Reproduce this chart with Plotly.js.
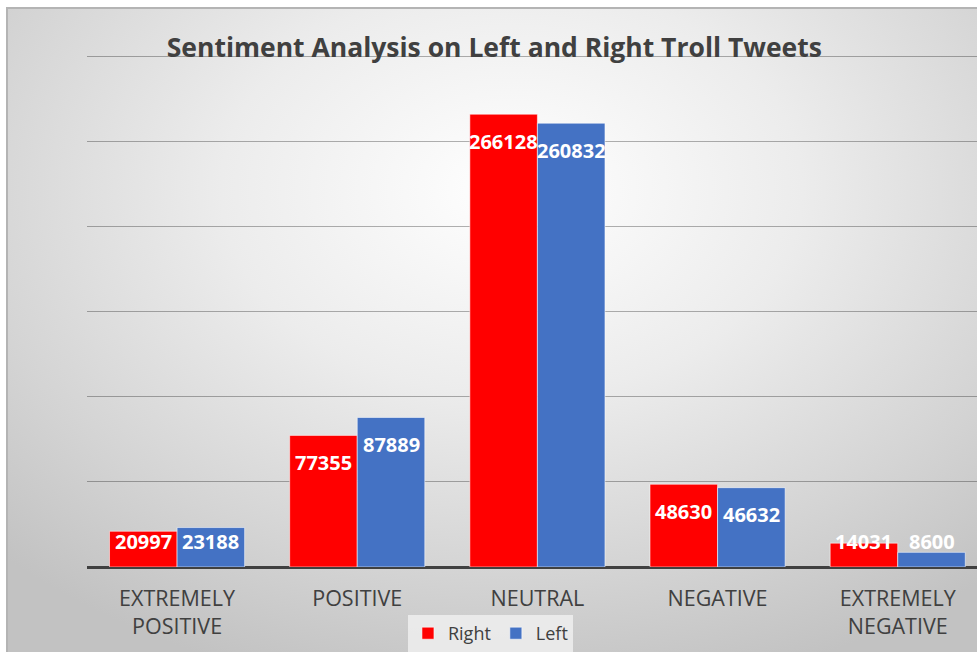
<!DOCTYPE html>
<html>
<head>
<meta charset="utf-8">
<script src="https://cdn.plot.ly/plotly-3.0.1.min.js"></script>
<style>
  html, body { margin: 0; padding: 0; background: #ffffff; }
  #wrap { position: relative; width: 977px; height: 652px; overflow: hidden; }
  #bg { position: absolute; left: 6px; top: 7px; right: 0; bottom: 0;
        border-left: 2px solid #b4b4b4; border-top: 2px solid #b4b4b4;
        background: radial-gradient(ellipse 75% 80% at 52% 28%, #ffffff 0%, #ececec 40%, #d4d4d4 75%, #c2c2c2 100%); }
  #chart { position: absolute; left: 0; top: 0; width: 977px; height: 652px; }
</style>
</head>
<body>
<div id="wrap">
  <div id="bg"></div>
  <div id="chart"></div>
</div>
<script>
const categories = ["EXTREMELY<br>POSITIVE", "POSITIVE", "NEUTRAL", "NEGATIVE", "EXTREMELY<br>NEGATIVE"];
const rightValues = [20997, 77355, 266128, 48630, 14031];
const leftValues = [23188, 87889, 260832, 46632, 8600];
const seriesNames = ["Right", "Left"];
const seriesColors = ["#ff0000", "#4472c4"];

const idx = categories.map((c, i) => i);

const traces = [rightValues, leftValues].map((vals, s) => ({
  type: "bar",
  name: seriesNames[s],
  x: idx,
  y: vals,
  marker: { color: seriesColors[s], line: { color: "rgba(255,255,255,0.55)", width: 1 } },
  hoverinfo: "x+y+name"
}));

// data labels near the inside end of each bar, kept above a minimum height for short bars
const barOffset = 0.1875;
const minLabelVal = 31000;
const annotations = [];
[rightValues, leftValues].forEach((vals, s) => {
  vals.forEach((v, i) => {
    annotations.push({
      x: i + (s === 0 ? -barOffset : barOffset),
      y: Math.max(v, minLabelVal),
      xref: "x", yref: "y",
      yshift: -27,
      text: String(v),
      showarrow: false,
      xanchor: "center", yanchor: "middle",
      font: { family: "Open Sans", size: 20, color: "#ffffff", weight: "bold" }
    });
  });
});

const layout = {
  width: 977, height: 652,
  paper_bgcolor: "rgba(0,0,0,0)",
  plot_bgcolor: "rgba(0,0,0,0)",
  margin: { l: 87, r: 0, t: 54, b: 85 },
  title: {
    text: "<b>Sentiment Analysis on Left and Right Troll Tweets</b>",
    font: { family: "Open Sans", size: 26.5, color: "#404040" },
    x: 0.506, xanchor: "center",
    y: 0.927, yanchor: "middle"
  },
  barmode: "group",
  bargap: 0.25,
  bargroupgap: 0.0,
  showlegend: true,
  legend: {
    orientation: "h",
    xref: "container", yref: "container",
    x: 0.502, xanchor: "center",
    y: 0, yanchor: "bottom",
    bgcolor: "rgba(238,238,238,0.85)",
    font: { family: "Open Sans", size: 18, color: "#404040" },
    itemwidth: 30,
    traceorder: "normal"
  },
  xaxis: {
    type: "linear",
    range: [-0.5, 4.44],
    tickmode: "array",
    tickvals: idx,
    ticktext: categories,
    showgrid: false,
    zeroline: false,
    showline: false,
    ticks: "outside", ticklen: 12, tickcolor: "rgba(0,0,0,0)",
    tickfont: { family: "Open Sans", size: 21.5, color: "#404040" }
  },
  yaxis: {
    range: [0, 301500],
    dtick: 50000,
    showticklabels: false,
    showgrid: true,
    gridcolor: "rgba(0,0,0,0.3)",
    gridwidth: 1,
    zeroline: true,
    zerolinecolor: "#404040",
    zerolinewidth: 3,
    showline: false
  },
  annotations: annotations
};

Plotly.newPlot("chart", traces, layout, { displayModeBar: false, staticPlot: true });
</script>
</body>
</html>
